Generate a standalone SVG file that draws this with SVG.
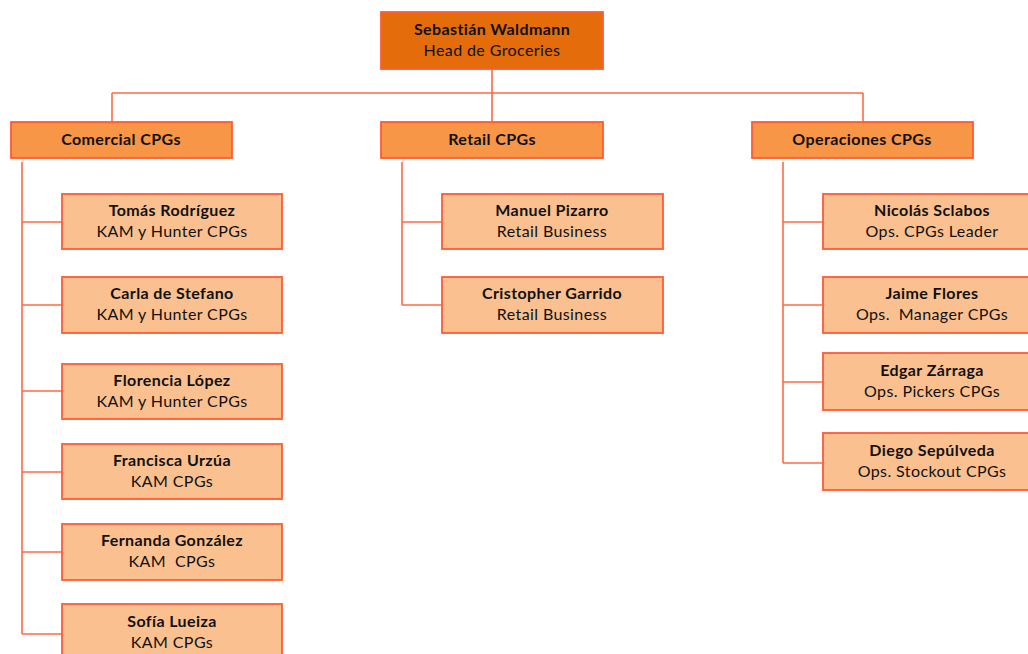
<svg xmlns="http://www.w3.org/2000/svg" width="1028" height="654" viewBox="0 0 1028 654">
<style>
.box{stroke:#FF5A36;stroke-width:1.8}
.top{fill:#E46C0A}
.hdr{fill:#F79646}
.leaf{fill:#FAC090}
.ln{fill:none;stroke:#FF6A45;stroke-width:1.6}
text{font-family:Lato,"Open Sans","Liberation Sans",sans-serif;font-size:16px;letter-spacing:0.4px;fill:#111111;text-anchor:middle}
.b{font-weight:bold}
</style>
<rect width="1028" height="654" fill="#ffffff"/>
<g id="connectors">
<path class="ln" d="M492,69V122M112,93H863M112,93V122M863,93V122"/>
<path class="ln" d="M22,162V634M22,222H62M22,305H62M22,391H62M22,472H62M22,552H62M22,634H62"/>
<path class="ln" d="M402,162V305M402,222H442M402,305H442"/>
<path class="ln" d="M783,162V463M783,222H823M783,305H823M783,382H823M783,463H823"/>
</g>
<g id="n-head"><rect class="box top" x="381" y="12" width="222" height="57"/><text class="b" x="492" y="35">Sebastián Waldmann</text><text x="492" y="56">Head de Groceries</text></g>
<g id="n-comercial"><rect class="box hdr" x="11" y="122" width="221" height="36"/><text class="b" x="121" y="145">Comercial CPGs</text></g>
<g id="n-retail"><rect class="box hdr" x="381" y="122" width="222" height="36"/><text class="b" x="492" y="145">Retail CPGs</text></g>
<g id="n-operaciones"><rect class="box hdr" x="752" y="122" width="221" height="36"/><text class="b" x="862" y="145">Operaciones CPGs</text></g>
<g id="n-tomas"><rect class="box leaf" x="62" y="194" width="220" height="55"/><text class="b" x="172" y="216">Tomás Rodríguez</text><text x="172" y="237">KAM y Hunter CPGs</text></g>
<g id="n-carla"><rect class="box leaf" x="62" y="277" width="220" height="56"/><text class="b" x="172" y="299">Carla de Stefano</text><text x="172" y="320">KAM y Hunter CPGs</text></g>
<g id="n-florencia"><rect class="box leaf" x="62" y="364" width="220" height="55"/><text class="b" x="172" y="386">Florencia López</text><text x="172" y="407">KAM y Hunter CPGs</text></g>
<g id="n-francisca"><rect class="box leaf" x="62" y="444" width="220" height="55"/><text class="b" x="172" y="466">Francisca Urzúa</text><text x="172" y="487">KAM CPGs</text></g>
<g id="n-fernanda"><rect class="box leaf" x="62" y="524" width="220" height="56"/><text class="b" x="172" y="546">Fernanda González</text><text x="172" y="567" xml:space="preserve">KAM  CPGs</text></g>
<g id="n-sofia"><rect class="box leaf" x="62" y="604" width="220" height="56"/><text class="b" x="172" y="627">Sofía Lueiza</text><text x="172" y="648">KAM CPGs</text></g>
<g id="n-manuel"><rect class="box leaf" x="442" y="194" width="221" height="55"/><text class="b" x="552" y="216">Manuel Pizarro</text><text x="552" y="237">Retail Business</text></g>
<g id="n-cristopher"><rect class="box leaf" x="442" y="277" width="221" height="56"/><text class="b" x="552" y="299">Cristopher Garrido</text><text x="552" y="320">Retail Business</text></g>
<g id="n-nicolas"><rect class="box leaf" x="823" y="194" width="220" height="55"/><text class="b" x="932" y="216">Nicolás Sclabos</text><text x="932" y="237">Ops. CPGs Leader</text></g>
<g id="n-jaime"><rect class="box leaf" x="823" y="277" width="220" height="56"/><text class="b" x="932" y="299">Jaime Flores</text><text x="932" y="320" xml:space="preserve">Ops.  Manager CPGs</text></g>
<g id="n-edgar"><rect class="box leaf" x="823" y="353" width="220" height="57"/><text class="b" x="932" y="376">Edgar Zárraga</text><text x="932" y="397">Ops. Pickers CPGs</text></g>
<g id="n-diego"><rect class="box leaf" x="823" y="433" width="220" height="57"/><text class="b" x="932" y="456">Diego Sepúlveda</text><text x="932" y="477">Ops. Stockout CPGs</text></g>
</svg>
